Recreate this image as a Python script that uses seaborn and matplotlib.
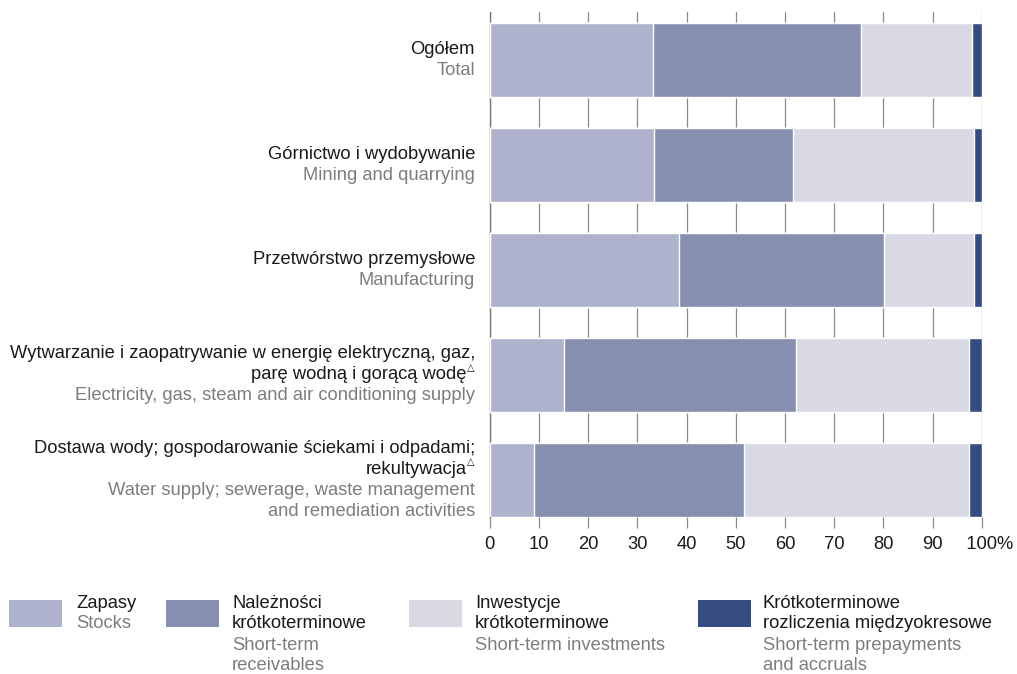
import numpy as np
import matplotlib
matplotlib.use("Agg")
import matplotlib.pyplot as plt
from matplotlib.patches import Rectangle
import seaborn as sns

# ---- data ----
cat_pl = [
    ["Ogółem"],
    ["Górnictwo i wydobywanie"],
    ["Przetwórstwo przemysłowe"],
    ["Wytwarzanie i zaopatrywanie w energię elektryczną, gaz,",
     "parę wodną i gorącą wodę△"],
    ["Dostawa wody; gospodarowanie ściekami i odpadami;",
     "rekultywacja△"],
]
cat_en = [
    ["Total"],
    ["Mining and quarrying"],
    ["Manufacturing"],
    ["Electricity, gas, steam and air conditioning supply"],
    ["Water supply; sewerage, waste management",
     "and remediation activities"],
]
cat_keys = ["Ogółem", "Górnictwo", "Przetwórstwo", "Energia", "Woda"]

stocks = [33.2, 33.3, 38.4, 15.2, 9.1]
receivables = [42.3, 28.4, 41.7, 47.1, 42.5]
investments = [22.5, 36.7, 18.3, 35.1, 45.7]
prepayments = [2.0, 1.6, 1.6, 2.6, 2.7]

series_pl = [["Zapasy"], ["Należności", "krótkoterminowe"],
             ["Inwestycje", "krótkoterminowe"],
             ["Krótkoterminowe", "rozliczenia międzyokresowe"]]
series_en = [["Stocks"], ["Short-term", "receivables"],
             ["Short-term investments"],
             ["Short-term prepayments", "and accruals"]]
colors = ["#AEB2CC", "#878FB1", "#D9D9E6", "#344C82"]

xticks = [0, 10, 20, 30, 40, 50, 60, 70, 80, 90, 100]
xticklabels = ["0", "10", "20", "30", "40", "50", "60", "70", "80", "90", "   100%"]

# ---- style ----
sns.set_style("white")
plt.rcParams["font.family"] = ["Liberation Sans", "DejaVu Sans"]
FS = 13.2
BLACK = "#1a1a1a"
GREY = "#7d7d7d"
GRID = "#8a8a8a"

W, H = 1017, 674
fig = plt.figure(figsize=(W / 100, H / 100), dpi=100)
ax = fig.add_axes([489.5 / W, 1 - 517 / H, 492.5 / W, 505 / H])

series = [stocks, receivables, investments, prepayments]
cums = np.cumsum(np.array(series), axis=0)

# draw largest cumulative first (stacking by overlay)
for k in range(3, -1, -1):
    sns.barplot(x=cums[k], y=cat_keys, order=cat_keys, orient="h",
                color=colors[k], saturation=1, width=0.71,
                edgecolor="white", linewidth=1.0, errorbar=None, ax=ax,
                zorder=3)

ax.set_xlim(0, 100)
ax.set_ylim(4 + 0.355, -0.46)
ax.set_xticks(xticks)
ax.set_xticklabels(xticklabels, fontsize=FS, color=BLACK)
ax.set_yticks([])
ax.set_xlabel("")
ax.set_ylabel("")
ax.grid(axis="x", color=GRID, linewidth=0.9, zorder=0)
ax.grid(axis="y", visible=False)
ax.set_axisbelow(True)
for s in ["top", "right", "bottom"]:
    ax.spines[s].set_visible(False)
ax.spines["left"].set_color("#777777")
ax.spines["left"].set_linewidth(1.0)
ax.tick_params(axis="x", direction="out", length=8, width=0.9,
               color=GRID, pad=6, bottom=True)

# ---- category labels (two-tone) ----
LS = 21 * 0.72  # line spacing in points (21 px)
XOFF = -10.4
TRI_W = 6.0  # points reserved for the superscript triangle
for i in range(len(cat_keys)):
    lines = [(t, BLACK) for t in cat_pl[i]] + [(t, GREY) for t in cat_en[i]]
    n = len(lines)
    for k, (t, c) in enumerate(lines):
        dy = ((n - 1) / 2 - k) * LS
        if t.endswith("△"):
            body = t[:-1]
            ax.annotate(body, xy=(0, i), xycoords=("axes fraction", "data"),
                        xytext=(XOFF - TRI_W, dy), textcoords="offset points",
                        ha="right", va="center", fontsize=FS, color=c)
            ax.annotate("△", xy=(0, i), xycoords=("axes fraction", "data"),
                        xytext=(XOFF - TRI_W + 0.3, dy + 5.0),
                        textcoords="offset points", ha="left", va="center",
                        fontsize=7, color=c, family="DejaVu Sans")
        else:
            ax.annotate(t, xy=(0, i), xycoords=("axes fraction", "data"),
                        xytext=(XOFF, dy), textcoords="offset points",
                        ha="right", va="center", fontsize=FS, color=c)

# ---- legend ----
leg_sq_x = [9, 166, 409, 698]
leg_tx_x = [76, 232, 475, 763]
sq_w, sq_h = 53, 27
sq_top = 600
line0 = 603
for j in range(4):
    fig.add_artist(Rectangle((leg_sq_x[j] / W, 1 - (sq_top + sq_h) / H),
                             sq_w / W, sq_h / H, transform=fig.transFigure,
                             facecolor=colors[j], edgecolor="none"))
    lines = [(t, BLACK) for t in series_pl[j]] + [(t, GREY) for t in series_en[j]]
    for k, (t, c) in enumerate(lines):
        fig.text(leg_tx_x[j] / W, 1 - (line0 + 21 * k) / H, t,
                 ha="left", va="center", fontsize=FS, color=c)

fig.savefig("out.png", dpi=100)
